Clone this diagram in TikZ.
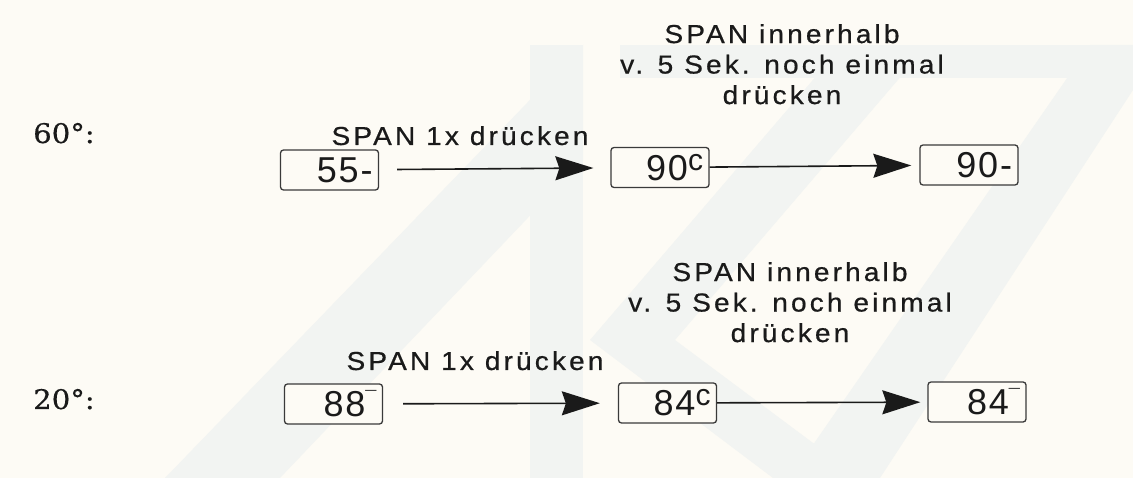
\documentclass[tikz,border=0pt]{standalone}
\usepackage{fontspec}
\usetikzlibrary{arrows.meta}
\newfontfamily\labelfont[FakeStretch=1.08,LetterSpace=12,FakeBold=0.6]{Liberation Sans}
\newfontfamily\lcdfont[LetterSpace=5]{Liberation Sans}
\newfontfamily\tempfont[FakeBold=0.5,FakeStretch=1.08]{DejaVu Serif}
\definecolor{ink}{HTML}{1A1A1A}
\definecolor{frame}{HTML}{3A3A3A}
\definecolor{paper}{HTML}{FDFBF5}
\definecolor{watermark}{HTML}{F2F4F2}
% small upper segments behind the digits
\newcommand{\segc}{\raisebox{10pt}{\fontsize{30}{30}\selectfont c}}
\newcommand{\segbar}{\raisebox{11pt}{\fontsize{20}{20}\selectfont ¯}}

\begin{document}
\begin{tikzpicture}[x=1pt,y=-1pt,
  every node/.style={text=ink,inner sep=0pt},
  display/.style={draw=frame,line width=1.3pt,rounded corners=3pt,fill=paper,
    text width=86pt,align=right,minimum height=40pt,inner xsep=6pt,
    font=\lcdfont\fontsize{36}{36}\selectfont},
  press/.style={-{Stealth[length=38pt,width=24pt,inset=4pt]},line width=1.6pt,draw=ink},
  note/.style={font=\labelfont\fontsize{26}{30.5}\selectfont,align=center},
  degree/.style={font=\tempfont\fontsize{27}{27}\selectfont}]

\useasboundingbox[fill=paper] (0,0) rectangle (1133,478);

% faint watermark of the scanned page
\fill[watermark] (530,45) -- (583,45) -- (583,478) -- (530,478) -- cycle;
\fill[watermark] (165,478) -- (583,45) -- (583,160) -- (280,478) -- cycle;
\fill[watermark] (830,60) -- (915,60) -- (675,340) -- (860,478) -- (773,478)
  -- (590,340) -- cycle;
\fill[watermark] (620,45) -- (1133,45) -- (1133,78) -- (620,78) -- cycle;
\fill[watermark] (1090,45) -- (1133,45) -- (1133,90) -- (880,478) -- (790,478) -- cycle;

\node[degree,anchor=base west] (t60) at (33,143) {60°:};
\node[degree,anchor=base west] (t20) at (33,409) {20°:};

\node[display] (d55) at (329.5,170) {55-};
\node[display] (d90c) at (660,167.5) {90\segc};
\node[display] (d90m) at (969,165) {90-};

\node[display] (d88) at (333.5,404) {88\segbar};
\node[display] (d84c) at (667.5,403) {84\segc};
\node[display] (d84m) at (977,402) {84\segbar};

\node[note,anchor=base] (press60) at (460,145) {SPAN 1x drücken};
\node[note,anchor=north] (hint60) at (782,24)
  {SPAN innerhalb\\v. 5 Sek. noch einmal\\drücken};
\node[note,anchor=base] (press20) at (475,370) {SPAN 1x drücken};
\node[note,anchor=north] (hint20) at (790,262)
  {SPAN innerhalb\\v. 5 Sek. noch einmal\\drücken};

\draw[press,shorten <=18pt,shorten >=17pt] (d55) -- (d90c);
\draw[press,shorten >=8pt] (d90c) -- (d90m);
\draw[press,shorten <=20pt,shorten >=18pt] (d88) -- (d84c);
\draw[press,shorten >=7pt] (d84c) -- (d84m);
\end{tikzpicture}
\end{document}
